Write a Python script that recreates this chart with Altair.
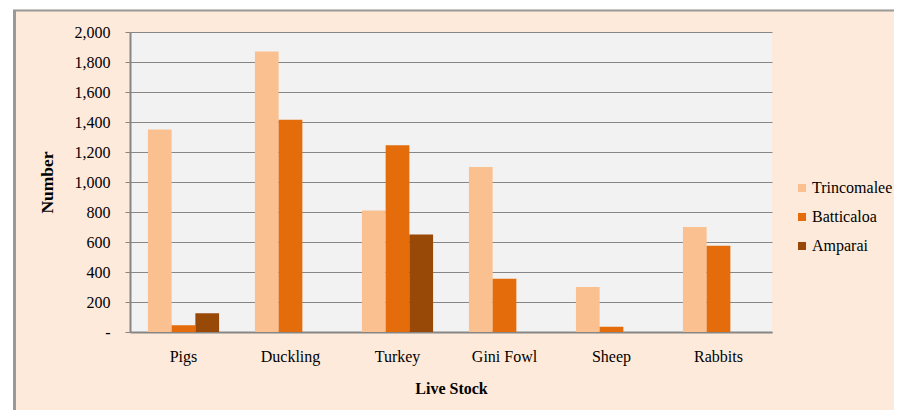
import altair as alt
import pandas as pd

categories = ["Pigs", "Duckling", "Turkey", "Gini Fowl", "Sheep", "Rabbits"]
series = ["Trincomalee", "Batticaloa", "Amparai"]
trincomalee = [1350, 1870, 810, 1100, 300, 700]
batticaloa = [45, 1415, 1245, 355, 35, 575]
amparai = [125, 0, 650, 0, 0, 0]
colors = ["#FAC090", "#E46C0A", "#984807"]
y_ticks = [0, 200, 400, 600, 800, 1000, 1200, 1400, 1600, 1800, 2000]

rows = []
for s, vals in zip(series, [trincomalee, batticaloa, amparai]):
    for c, v in zip(categories, vals):
        rows.append({"Live Stock": c, "District": s, "Number": v})
df = pd.DataFrame(rows)

FONT = "Liberation Serif"
GRAY = "#868686"

bars = alt.Chart(df).mark_bar(strokeWidth=0).encode(
    x=alt.X("Live Stock:N", sort=categories,
            scale=alt.Scale(paddingInner=0.335, paddingOuter=0.1675),
            axis=alt.Axis(title="Live Stock", labelAngle=0, ticks=False,
                          domainColor=GRAY, domainWidth=2, labelPadding=16,
                          titlePadding=16, labelFont=FONT, labelFontSize=16,
                          labelColor="#000", titleFont=FONT, titleFontSize=16,
                          titleColor="#000", titleFontWeight="bold")),
    xOffset=alt.XOffset("District:N", sort=series,
                        scale=alt.Scale(paddingInner=0, paddingOuter=0)),
    y=alt.Y("Number:Q", scale=alt.Scale(domain=[0, 2000], nice=False),
            axis=alt.Axis(title="Number", values=y_ticks,
                          labelExpr="datum.value == 0 ? '-' : format(datum.value, ',')",
                          domainColor=GRAY, domainWidth=2, tickColor=GRAY,
                          tickSize=5, labelPadding=15, gridColor=GRAY,
                          gridWidth=1, labelFont=FONT, labelFontSize=16,
                          labelColor="#000", titleFont=FONT, titleFontSize=17.5,
                          titleColor="#000", titleFontWeight="bold",
                          titlePadding=18)),
    color=alt.Color("District:N", sort=series,
                    scale=alt.Scale(domain=series, range=colors),
                    legend=alt.Legend(title=None, orient="none", legendX=664,
                                      legendY=148, symbolType="square",
                                      symbolSize=64, symbolStrokeWidth=0,
                                      labelFont=FONT, labelFontSize=16,
                                      labelColor="#000", rowPadding=13,
                                      labelOffset=2)),
)

decor = pd.DataFrame([{"k": 1}])
white_left = alt.Chart(decor).mark_rect(color="white").encode(
    x=alt.value(-122), x2=alt.value(-117), y=alt.value(-24), y2=alt.value(378))
gray_left = alt.Chart(decor).mark_rect(color="#999999").encode(
    x=alt.value(-117), x2=alt.value(-114), y=alt.value(-22), y2=alt.value(378))
white_top = alt.Chart(decor).mark_rect(color="white").encode(
    x=alt.value(-117), x2=alt.value(764), y=alt.value(-24), y2=alt.value(-22.5))
gray_top = alt.Chart(decor).mark_rect(color="#999999").encode(
    x=alt.value(-117), x2=alt.value(764), y=alt.value(-22.5), y2=alt.value(-20.5))

chart = alt.layer(bars, white_left, gray_left, white_top, gray_top).properties(
    width=642, height=300,
    background="#FDEADA",
    padding={"left": 122, "top": 24, "right": 122, "bottom": 78},
    autosize=alt.AutoSizeParams(type="none"),
).configure_view(fill="#F2F2F2", stroke=None)

chart.save("out.html", embed_options={"renderer": "svg", "actions": False})
